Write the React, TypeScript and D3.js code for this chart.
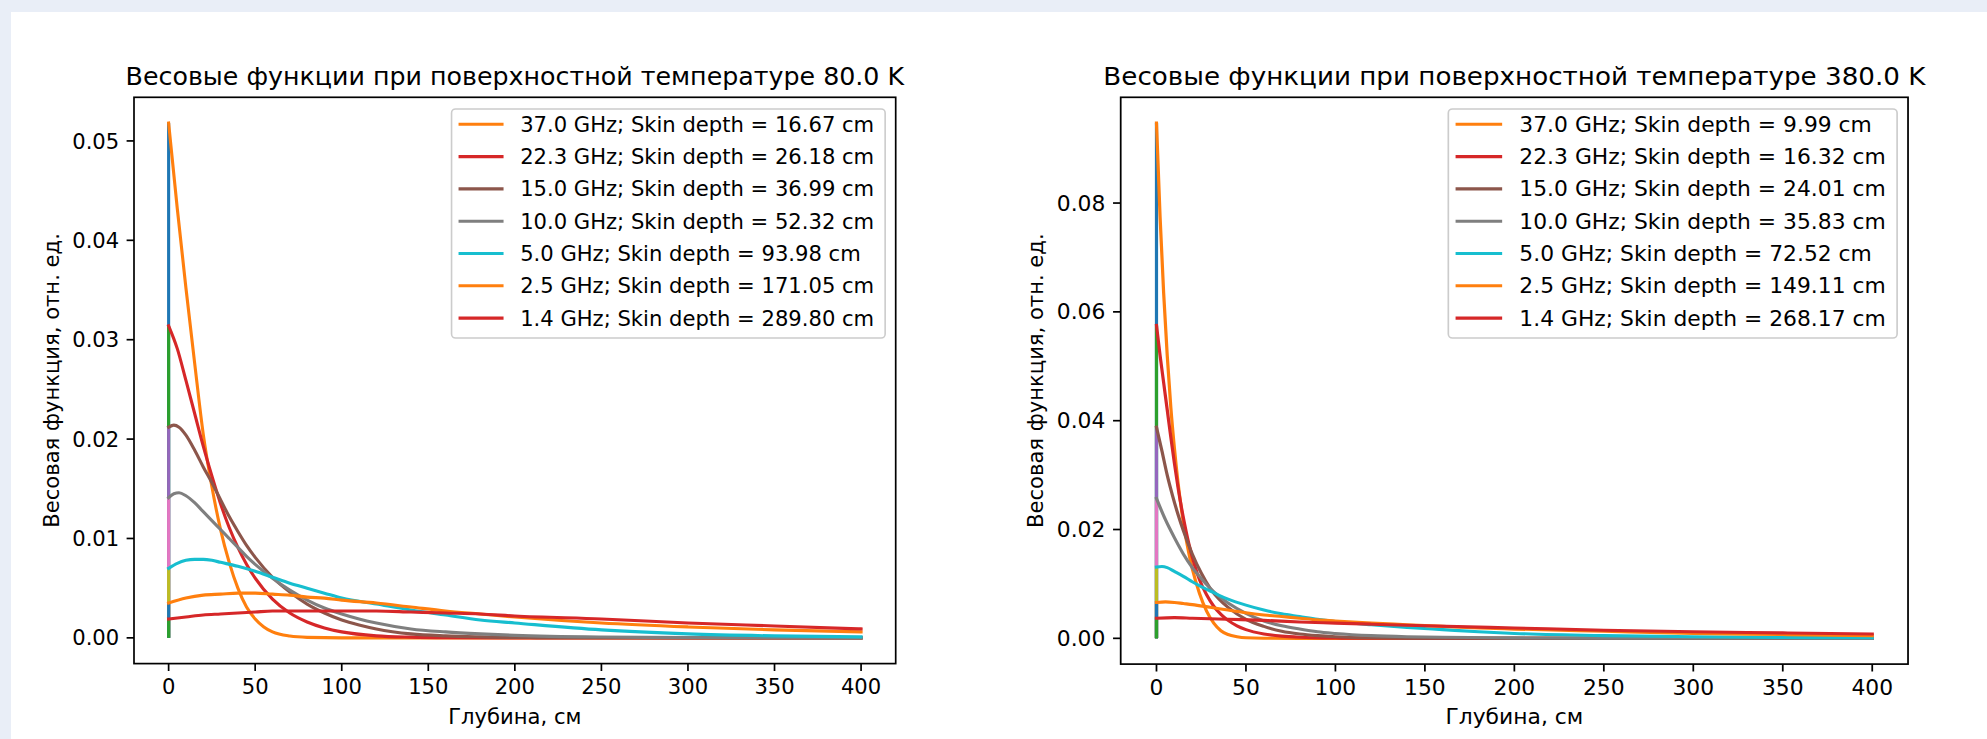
import React from "react";
import * as d3 from "d3";

// ---------- data ----------
const FREQS = [37.0, 22.3, 15.0, 10.0, 5.0, 2.5, 1.4];
const SKIN_80 = [16.67, 26.18, 36.99, 52.32, 93.98, 171.05, 289.8];
const SKIN_380 = [9.99, 16.32, 24.01, 35.83, 72.52, 149.11, 268.17];
const X_TICKS = [0, 50, 100, 150, 200, 250, 300, 350, 400];
const Y_TICKS_80 = [0, 0.01, 0.02, 0.03, 0.04, 0.05];
const Y_TICKS_380 = [0, 0.02, 0.04, 0.06, 0.08];
const TITLE_80 = "Весовые функции при поверхностной температуре 80.0 K";
const TITLE_380 = "Весовые функции при поверхностной температуре 380.0 K";
const X_LABEL = "Глубина, см";
const Y_LABEL = "Весовая функция, отн. ед.";

// weighting functions: [depth cm, value]
const W80_37 = [[0,.0518],[5,.0432],[10,.0352],[15,.0277],[20,.0205],[25,.0152],[30,.0109],[35,.0076],[40,.0050],[45,.0031],[50,.0019],[55,.0011],[60,.0006],[70,.00018],[80,.00005],[100,0],[150,0],[200,0],[250,0],[300,0],[350,0],[400,0]];
const W80_22 = [[0,.0314],[5,.0291],[10,.0259],[15,.0226],[20,.0193],[25,.0163],[30,.0135],[35,.0111],[40,.0091],[45,.0074],[50,.0060],[60,.0039],[70,.0025],[80,.0016],[90,.0010],[100,.0006],[120,.0002],[140,.00007],[160,.00002],[200,0],[250,0],[300,0],[400,0]];
const W80_15 = [[0,.0212],[3,.0214],[6,.0212],[10,.0204],[15,.0189],[20,.0172],[25,.0156],[30,.0139],[35,.0122],[40,.0107],[45,.0093],[50,.0081],[60,.0061],[70,.0046],[80,.0034],[90,.0025],[100,.0018],[110,.0013],[120,.0009],[140,.0004],[160,.0002],[180,.0001],[200,.00004],[250,.00001],[300,0],[400,0]];
const W80_10 = [[0,.0141],[3,.0145],[6,.0146],[10,.0143],[15,.0136],[20,.0127],[25,.0118],[30,.0109],[35,.0100],[40,.0091],[45,.0082],[50,.0074],[60,.0060],[70,.0048],[80,.0038],[90,.0030],[100,.0024],[110,.0019],[120,.0015],[140,.0009],[160,.0006],[180,.0004],[200,.00025],[250,.00008],[300,.00003],[350,.00001],[400,0]];
const W80_5 = [[0,.0070],[5,.0075],[10,.0078],[15,.0079],[20,.0079],[25,.0078],[30,.0076],[40,.0072],[50,.0067],[60,.0061],[70,.0055],[80,.0050],[90,.0045],[100,.0040],[120,.0034],[140,.0028],[160,.0023],[180,.0018],[200,.0015],[250,.0008],[300,.0004],[350,.0002],[400,.0001]];
const W80_25 = [[0,.0035],[10,.0040],[20,.0043],[30,.0044],[40,.0045],[50,.0045],[60,.0044],[70,.0043],[80,.0041],[90,.0040],[100,.0038],[120,.0035],[140,.0031],[160,.0027],[180,.0024],[200,.0021],[250,.0015],[300,.0011],[350,.0008],[400,.0006]];
const W80_14 = [[0,.0019],[10,.0021],[20,.0023],[30,.0024],[40,.0025],[50,.0026],[60,.0027],[80,.0027],[100,.0027],[120,.0027],[140,.0026],[160,.0025],[180,.0024],[200,.0022],[250,.0019],[300,.0015],[350,.0012],[400,.0009]];

const W380_37 = [[0,.0947],[2,.0775],[4,.0635],[6,.0520],[8,.0425],[10,.0350],[12,.0287],[14,.0236],[16,.0193],[18,.0158],[20,.0128],[24,.0083],[28,.0050],[32,.0028],[36,.0014],[40,.0007],[45,.0003],[50,.0001],[60,.00002],[80,0],[100,0],[200,0],[300,0],[400,0]];
const W380_22 = [[0,.0575],[2,.0520],[4,.0470],[6,.0420],[8,.0370],[10,.0322],[12,.0278],[15,.0222],[18,.0175],[21,.0138],[24,.0108],[28,.0080],[32,.0059],[36,.0044],[40,.0033],[45,.0023],[50,.0016],[60,.0008],[70,.0004],[80,.0002],[100,.00005],[120,.00001],[150,0],[200,0],[300,0],[400,0]];
const W380_15 = [[0,.0388],[3,.0345],[6,.0300],[9,.0262],[12,.0228],[15,.0198],[20,.0155],[25,.0120],[30,.0092],[35,.0072],[40,.0057],[50,.0035],[60,.0022],[70,.0013],[80,.0008],[90,.0005],[100,.0003],[120,.0001],[150,.00002],[200,0],[300,0],[400,0]];
const W380_10 = [[0,.0257],[5,.0218],[10,.0185],[15,.0155],[20,.0130],[25,.0110],[30,.0092],[35,.0077],[40,.0065],[50,.0046],[60,.0032],[70,.0023],[80,.0017],[90,.0012],[100,.0009],[120,.0005],[140,.0003],[160,.0002],[200,.00008],[250,.00003],[300,.00001],[400,0]];
const W380_5 = [[0,.0131],[3,.0132],[6,.0130],[10,.0123],[15,.0114],[20,.0104],[25,.0095],[30,.0087],[35,.0079],[40,.0072],[50,.0061],[60,.0052],[70,.0045],[80,.0040],[90,.0035],[100,.0031],[120,.0025],[140,.0020],[160,.0016],[180,.0012],[200,.0009],[250,.0005],[300,.0003],[350,.00015],[400,.0001]];
const W380_25 = [[0,.0066],[5,.0067],[10,.0066],[15,.0064],[20,.0062],[30,.0057],[40,.0052],[50,.0047],[60,.0043],[70,.0040],[80,.0037],[90,.0034],[100,.0032],[120,.0028],[140,.0025],[160,.0022],[180,.0019],[200,.0017],[250,.0013],[300,.0009],[350,.0007],[400,.0005]];
const W380_14 = [[0,.0037],[10,.0038],[20,.0037],[40,.0035],[60,.0033],[80,.0030],[100,.0028],[120,.0026],[150,.0023],[200,.0019],[250,.0015],[300,.0012],[350,.0010],[400,.0008]];

const SERIES_80 = [W80_37, W80_22, W80_15, W80_10, W80_5, W80_25, W80_14];
const SERIES_380 = [W380_37, W380_22, W380_15, W380_10, W380_5, W380_25, W380_14];

const TAB10 = ["#1f77b4", "#ff7f0e", "#2ca02c", "#d62728", "#9467bd", "#8c564b", "#e377c2", "#7f7f7f", "#bcbd22", "#17becf"];

// ---------- styles ----------
const FONT = "DejaVu Sans";
const FS = 21.1;
const TITLE_FS = 25.3;
const LW = 3.1;
const SPINE = 1.7;
const TICK = 7.4;

type Pt = number[];

function Panel(props: {
  left: number; top: number; width: number; height: number; sx: number;
  title: string; series: Pt[][]; skins: number[]; yTicks: number[];
}) {
  const { left, top, width, height, sx, title, series, skins, yTicks } = props;
  const allPts = series.flat();
  const [x0, x1] = d3.extent(allPts, (p) => p[0]) as [number, number];
  const [v0, v1] = d3.extent(allPts, (p) => p[1]) as [number, number];
  const xm = (x1 - x0) * 0.05;
  const ym = (v1 - v0) * 0.05;
  const x = d3.scaleLinear().domain([x0 - xm, x1 + xm]).range([0, width]);
  const y = d3.scaleLinear().domain([v0 - ym, v1 + ym]).range([height, 0]);
  const line = d3
    .line<Pt>()
    .x((d) => x(d[0]))
    .y((d) => y(d[1]))
    .curve(d3.curveMonotoneX);

  const legW = 433.6;
  const legX = width - 10.55 - legW;
  const legY = 11.7;
  const rowY0 = 15.3;
  const rowDy = 32.3;

  return (
    <g transform={`translate(${left},${top}) scale(${sx},1)`} fontFamily={FONT}>
      {series.map((s, i) => (
        <g key={i}>
          <line
            x1={x(s[0][0])}
            x2={x(s[0][0])}
            y1={y(0)}
            y2={y(s[0][1])}
            stroke={TAB10[(2 * i) % 10]}
            strokeWidth={LW}
            strokeLinecap="butt"
          />
          <path
            d={line(s) || ""}
            fill="none"
            stroke={TAB10[(2 * i + 1) % 10]}
            strokeWidth={LW}
            strokeLinejoin="round"
            strokeLinecap="square"
          />
        </g>
      ))}
      <rect x={0} y={0} width={width} height={height} fill="none" stroke="#000" strokeWidth={SPINE} />
      {X_TICKS.map((t) => (
        <g key={"x" + t}>
          <line x1={x(t)} x2={x(t)} y1={height} y2={height + TICK} stroke="#000" strokeWidth={SPINE} />
          <text x={x(t)} y={height + 30.8} textAnchor="middle" fontSize={FS} fill="#000">
            {String(t)}
          </text>
        </g>
      ))}
      {yTicks.map((t) => (
        <g key={"y" + t}>
          <line x1={-TICK} x2={0} y1={y(t)} y2={y(t)} stroke="#000" strokeWidth={SPINE} />
          <text x={-TICK - 7.4} y={y(t) + 7.6} textAnchor="end" fontSize={FS} fill="#000">
            {t.toFixed(2)}
          </text>
        </g>
      ))}
      <text x={width / 2} y={-12.7} textAnchor="middle" fontSize={TITLE_FS} fill="#000">
        {title}
      </text>
      <text x={width / 2} y={height + 60.3} textAnchor="middle" fontSize={FS} fill="#000">
        {X_LABEL}
      </text>
      <text
        transform={`translate(${-74.6},${height / 2}) rotate(-90)`}
        textAnchor="middle"
        fontSize={FS}
        fill="#000"
      >
        {Y_LABEL}
      </text>
      <g>
        <rect
          x={legX}
          y={legY}
          width={legW}
          height={229}
          rx={4}
          ry={4}
          fill="#fff"
          fillOpacity={0.8}
          stroke="#cccccc"
          strokeWidth={1.6}
        />
        {FREQS.map((f, i) => {
          const ry = legY + rowY0 + i * rowDy;
          return (
            <g key={"l" + i}>
              <line
                x1={legX + 7}
                x2={legX + 52}
                y1={ry}
                y2={ry}
                stroke={TAB10[(2 * i + 1) % 10]}
                strokeWidth={LW}
              />
              <text x={legX + 68.6} y={ry + 7.6} fontSize={FS} fill="#000">
                {`${f.toFixed(1)} GHz; Skin depth = ${skins[i].toFixed(2)} cm`}
              </text>
            </g>
          );
        })}
      </g>
    </g>
  );
}

export default function App() {
  return (
    <svg
      width={1987}
      height={739}
      style={{ position: "absolute", left: 0, top: 0 }}
      xmlns="http://www.w3.org/2000/svg"
    >
      <rect x={0} y={0} width={1987} height={739} fill="#e9eef7" />
      <rect x={11} y={12} width={1976} height={727} fill="#ffffff" />
      <Panel
        left={134}
        top={97.3}
        width={761.7}
        height={566.3}
        sx={1}
        title={TITLE_80}
        series={SERIES_80}
        skins={SKIN_80}
        yTicks={Y_TICKS_80}
      />
      <Panel
        left={1120.7}
        top={97.3}
        width={760.7}
        height={566.8}
        sx={1.035}
        title={TITLE_380}
        series={SERIES_380}
        skins={SKIN_380}
        yTicks={Y_TICKS_380}
      />
    </svg>
  );
}
